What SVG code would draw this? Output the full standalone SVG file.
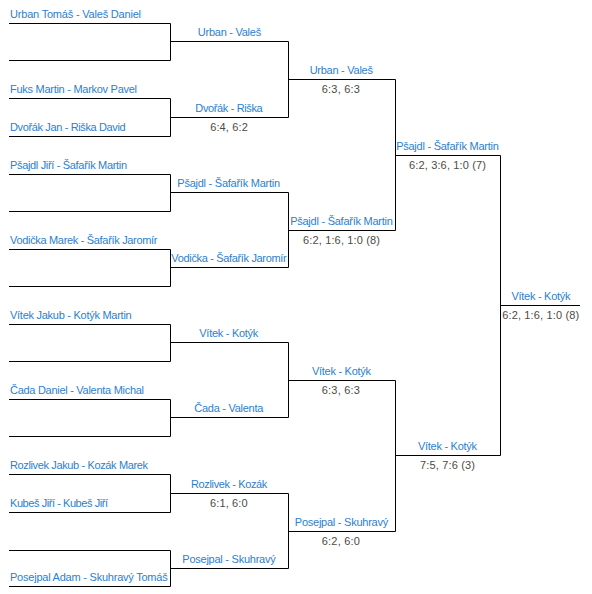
<svg xmlns="http://www.w3.org/2000/svg" width="592" height="594" viewBox="0 0 592 594">
<style>
text{font-family:"Liberation Sans",Arial,sans-serif;font-size:11px}
.n{fill:#2b80cf}
.s{fill:#4d4a45}
.c{text-anchor:middle}
.ln{fill:none;stroke:#000;stroke-width:1}
</style>
<rect width="592" height="594" fill="#fff"/>
<g id="connectors" class="ln">
<path d="M9 23.5H170.5V60.5H9M170.5 41.5H288.5"/>
<path d="M9 98.5H170.5V136.5H9M170.5 117.5H288.5"/>
<path d="M9 174.5H170.5V211.5H9M170.5 192.5H288.5"/>
<path d="M9 249.5H170.5V286.5H9M170.5 267.5H288.5"/>
<path d="M9 324.5H170.5V361.5H9M170.5 342.5H288.5"/>
<path d="M9 399.5H170.5V436.5H9M170.5 417.5H288.5"/>
<path d="M9 474.5H170.5V512.5H9M170.5 493.5H288.5"/>
<path d="M9 550.5H170.5V586.5H9M170.5 568.5H288.5"/>
<path d="M288.5 41.5V117.5M288.5 79.5H395.5"/>
<path d="M288.5 192.5V267.5M288.5 230.5H395.5"/>
<path d="M288.5 342.5V417.5M288.5 380.5H395.5"/>
<path d="M288.5 493.5V568.5M288.5 531.5H395.5"/>
<path d="M395.5 79.5V230.5M395.5 155.5H500.5"/>
<path d="M395.5 380.5V531.5M395.5 455.5H500.5"/>
<path d="M500.5 155.5V455.5M500.5 305.5H580"/>
</g>
<g id="round1">
<text class="n" x="10" y="17.5" textLength="131">Urban Tomáš - Valeš Daniel</text>
<text class="n" x="10" y="92.5" textLength="127">Fuks Martin - Markov Pavel</text>
<text class="n" x="10" y="130.5" textLength="115.7">Dvořák Jan - Riška David</text>
<text class="n" x="10" y="168.5" textLength="117">Pšajdl Jiří - Šafařík Martin</text>
<text class="n" x="10" y="243.5" textLength="147.5">Vodička Marek - Šafařík Jaromír</text>
<text class="n" x="10" y="318.5" textLength="121.7">Vítek Jakub - Kotýk Martin</text>
<text class="n" x="10" y="393.5" textLength="134">Čada Daniel - Valenta Michal</text>
<text class="n" x="10" y="468.5" textLength="138">Rozlivek Jakub - Kozák Marek</text>
<text class="n" x="10" y="506.5" textLength="98">Kubeš Jiří - Kubeš Jiří</text>
<text class="n" x="10" y="580.5" textLength="157.7">Posejpal Adam - Skuhravý Tomáš</text>
</g>
<g id="round2">
<text class="n c" x="229.5" y="36" textLength="63.3">Urban - Valeš</text>
<text class="n c" x="229" y="112" textLength="67.4">Dvořák - Riška</text>
<text class="s c" x="229" y="130.5" textLength="37.7">6:4, 6:2</text>
<text class="n c" x="228.7" y="187" textLength="102.7">Pšajdl - Šafařík Martin</text>
<text class="n c" x="229" y="262" textLength="115.3">Vodička - Šafařík Jaromír</text>
<text class="n c" x="228.8" y="337" textLength="59">Vítek - Kotýk</text>
<text class="n c" x="228.8" y="412" textLength="69">Čada - Valenta</text>
<text class="n c" x="229.2" y="488" textLength="76.3">Rozlivek - Kozák</text>
<text class="s c" x="228.8" y="506.5" textLength="37.7">6:1, 6:0</text>
<text class="n c" x="229" y="563" textLength="93.3">Posejpal - Skuhravý</text>
</g>
<g id="round3">
<text class="n c" x="341.3" y="73.5" textLength="63.3">Urban - Valeš</text>
<text class="s c" x="340.8" y="92.5" textLength="38.3">6:3, 6:3</text>
<text class="n c" x="341.5" y="224.5" textLength="102.7">Pšajdl - Šafařík Martin</text>
<text class="s c" x="341.5" y="243.5" textLength="77">6:2, 1:6, 1:0 (8)</text>
<text class="n c" x="341.5" y="374.5" textLength="59">Vítek - Kotýk</text>
<text class="s c" x="340.8" y="393.5" textLength="38.3">6:3, 6:3</text>
<text class="n c" x="341.5" y="525.5" textLength="93.3">Posejpal - Skuhravý</text>
<text class="s c" x="340.8" y="544.5" textLength="38.3">6:2, 6:0</text>
</g>
<g id="round4">
<text class="n c" x="447.5" y="149.5" textLength="102.7">Pšajdl - Šafařík Martin</text>
<text class="s c" x="447.5" y="168.5" textLength="77">6:2, 3:6, 1:0 (7)</text>
<text class="n c" x="447.5" y="449.5" textLength="59">Vítek - Kotýk</text>
<text class="s c" x="447.5" y="468.5" textLength="55">7:5, 7:6 (3)</text>
</g>
<g id="final">
<text class="n c" x="541" y="299.5" textLength="59">Vítek - Kotýk</text>
<text class="s c" x="540.7" y="318.5" textLength="77">6:2, 1:6, 1:0 (8)</text>
</g>
</svg>
